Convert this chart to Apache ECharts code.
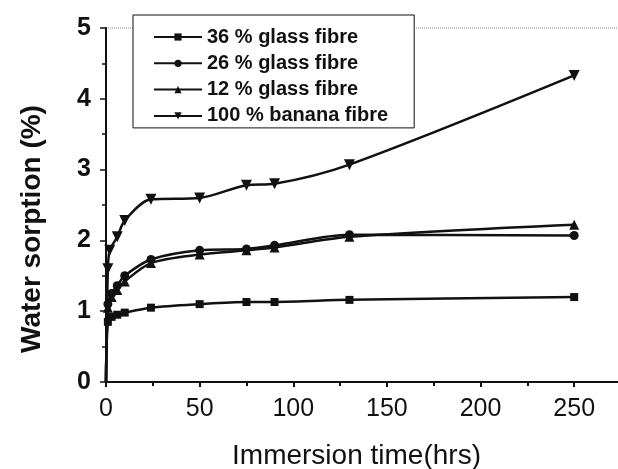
<!DOCTYPE html>
<html>
<head>
<meta charset="utf-8">
<script src="https://cdn.jsdelivr.net/npm/echarts@6/dist/echarts.min.js"></script>
<style>
  html, body { margin: 0; padding: 0; background: #fff; }
  #chart { width: 618px; height: 469px; }
</style>
</head>
<body>
<div id="chart"></div>
<script>
// immersion time (hrs) and water sorption (%)
var glass36 = [[0, 0], [1, 0.85], [3, 0.92], [6, 0.95], [10, 0.98], [24, 1.05], [50, 1.1], [75, 1.13], [90, 1.13], [130, 1.16], [250, 1.2]];
var glass26 = [[0, 0], [1, 1.1], [3, 1.25], [6, 1.36], [10, 1.5], [24, 1.73], [50, 1.86], [75, 1.88], [90, 1.93], [130, 2.08], [250, 2.07]];
var glass12 = [[0, 0], [1, 1.05], [3, 1.2], [6, 1.3], [10, 1.42], [24, 1.68], [50, 1.8], [75, 1.86], [90, 1.9], [130, 2.05], [250, 2.22]];
var banana100 = [[0, 0], [1, 1.6], [2, 1.86], [6, 2.05], [10, 2.28], [24, 2.58], [50, 2.6], [75, 2.78], [90, 2.8], [130, 3.07], [250, 4.33]];
var seriesNames = ["36 % glass fibre", "26 % glass fibre", "12 % glass fibre", "100 % banana fibre"];

var chart = echarts.init(document.getElementById("chart"));

function makeSeries(name, data, symbol, size, rotate) {
  return {
    name: name,
    type: "line",
    // origin point has no marker in the figure
    data: data.map(function (d) {
      return d[0] === 0 ? { value: d, symbol: "none" } : d;
    }),
    smooth: 0.3,
    symbol: symbol,
    symbolSize: size,
    symbolRotate: rotate || 0,
    showAllSymbol: true,
    lineStyle: { color: "#111", width: 2.5 },
    itemStyle: { color: "#111" },
    z: 3
  };
}

var option = {
  animation: false,
  textStyle: { fontFamily: "Liberation Sans, Arial, sans-serif" },
  grid: {
    left: 106,
    width: 515,
    top: 28,
    bottom: 87,
    outerBoundsMode: "none",
    show: true,
    borderColor: "#888",
    borderWidth: 1,
    borderType: "dotted"
  },
  legend: {
    orient: "vertical",
    left: 133,
    top: 15,
    padding: [12, 26, 2, 20],
    itemGap: 6.3,
    itemWidth: 48,
    itemHeight: 9,
    borderColor: "#111",
    borderWidth: 1,
    backgroundColor: "#fff",
    data: seriesNames,
    textStyle: { fontSize: 20, lineHeight: 20, fontWeight: "bold", color: "#111" }
  },
  xAxis: {
    type: "value",
    min: 0,
    max: 275,
    interval: 50,
    name: "Immersion time(hrs)",
    nameLocation: "middle",
    nameGap: 60,
    nameTextStyle: { fontSize: 28, color: "#111", padding: [0, 14, 0, 0] },
    axisLine: { lineStyle: { color: "#111", width: 2 } },
    axisTick: { length: 5, lineStyle: { color: "#111", width: 2 } },
    minorTick: { show: true, splitNumber: 2, length: 4, lineStyle: { color: "#111", width: 2 } },
    axisLabel: {
      fontSize: 25,
      color: "#111",
      margin: 15,
      formatter: function (v) { return v % 50 === 0 ? v : ""; }
    },
    splitLine: { show: false }
  },
  yAxis: {
    type: "value",
    min: 0,
    max: 5,
    interval: 1,
    name: "Water sorption (%)",
    nameLocation: "middle",
    nameGap: 60,
    nameTextStyle: { fontSize: 28, fontWeight: "bold", color: "#111", padding: [0, 48, 0, 0] },
    axisLine: { lineStyle: { color: "#111", width: 2 } },
    axisTick: { length: 6, lineStyle: { color: "#111", width: 1.5 } },
    minorTick: { show: true, splitNumber: 2, length: 4, lineStyle: { color: "#111", width: 1.5 } },
    axisLabel: { fontSize: 25, fontWeight: "bold", color: "#111", margin: 15 },
    splitLine: { show: false }
  },
  series: [
    makeSeries(seriesNames[0], glass36, "rect", 8),
    makeSeries(seriesNames[1], glass26, "circle", 9),
    makeSeries(seriesNames[2], glass12, "triangle", 10),
    makeSeries(seriesNames[3], banana100, "triangle", 11, 180)
  ]
};

chart.setOption(option);
window.addEventListener("resize", function () {
  chart.resize();
});
</script>
</body>
</html>
